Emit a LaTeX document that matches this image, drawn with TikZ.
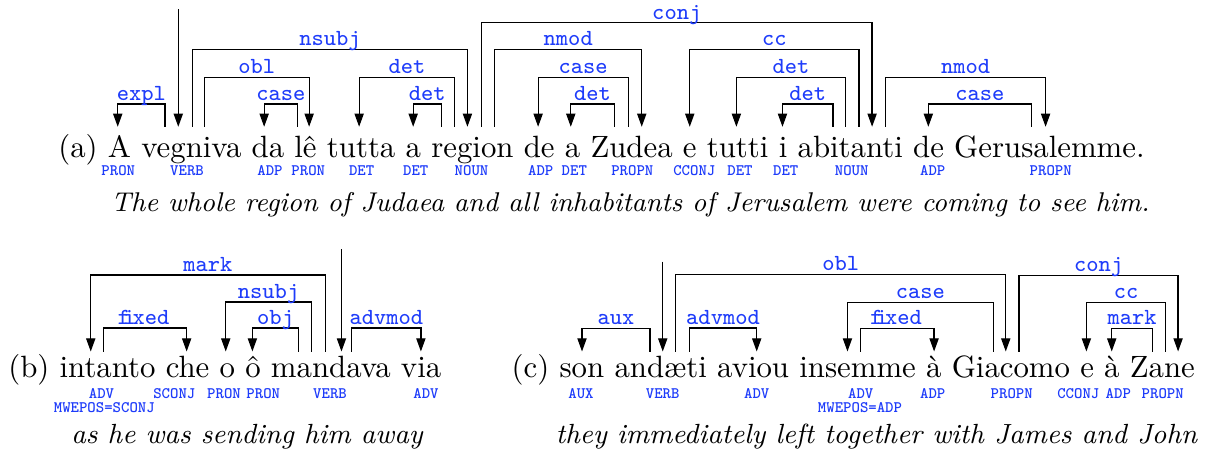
\documentclass[tikz,border=0pt]{standalone}
\usetikzlibrary{arrows.meta,calc}
\definecolor{depblue}{RGB}{30,60,250}
\tikzset{
  wordnode/.style={inner sep=0pt, outer sep=0pt, anchor=base west, font=\fontsize{10}{12}\selectfont},
  postag/.style={inner sep=0pt, outer sep=0pt, anchor=base, text=depblue, font=\fontsize{5.2}{6}\selectfont\ttfamily\bfseries},
  deplabel/.style={inner sep=0pt, outer sep=0pt, anchor=base, yshift=1.2pt, text=depblue, font=\fontsize{7.5}{9}\selectfont\ttfamily},
  deparrow/.style={line width=0.4pt, -{Triangle[length=4.3pt,width=3pt]}},
  rootarrow/.style={line width=0.4pt, -{Triangle[length=4.3pt,width=3pt]}},
  glossnode/.style={inner sep=0pt, outer sep=0pt, anchor=base, font=\fontsize{9}{11}\selectfont\itshape},
}
% next word of a sentence, one interword space after the previous one
\newcommand\nextword[3]{\node[wordnode] (#2) at ([xshift=3.3333pt]#1.base east) {#3};}
% head, dx, dependent, dx, level, relation
\newcommand\depedge[6]{%
  \draw[deparrow] ($(#1.base west)+(#2,\gap)$) coordinate (s) -- (s |- 0,#5)
    -| node[pos=.25,deplabel]{#6} ($(#3.base west)+(#4,\gap)$);}
% the f-i ligature of the mono font, set in one character cell
\newcommand\fixedlabel{\makebox[0.525em]{f\kern-0.28em i}xed}
\begin{document}
\begin{tikzpicture}[x=0.3247pt,y=-0.3247pt]
\useasboundingbox (0,0) rectangle (1205,452);

% ---------------- (a) ----------------
\node[wordnode] (prefA) at (58.3,157.8) {(a)};
\nextword{prefA}{A}{A}
\nextword{A}{vegniva}{vegniva}
\nextword{vegniva}{da}{da}
\nextword{da}{le}{lê}
\nextword{le}{tutta}{tutta}
\nextword{tutta}{aA}{a}
\nextword{aA}{region}{region}
\nextword{region}{deA}{de}
\nextword{deA}{aB}{a}
\nextword{aB}{Zudea}{Zudea}
\nextword{Zudea}{eA}{e}
\nextword{eA}{tutti}{tutti}
\nextword{tutti}{iA}{i}
\nextword{iA}{abitanti}{abitanti}
\nextword{abitanti}{deB}{de}
\nextword{deB}{Gerusalemme}{Gerusalemme}
\node[wordnode] (stopA) at (Gerusalemme.base east) {.};

\node[postag] (ta1) at (118.3,175.7) {PRON};
\node[postag] (ta2) at (187,175.7) {VERB};
\node[postag] (ta3) at (270,175.7) {ADP};
\node[postag] (ta4) at (308.3,175.7) {PRON};
\node[postag] (ta5) at (361.7,175.7) {DET};
\node[postag] (ta6) at (415.7,175.7) {DET};
\node[postag] (ta7) at (471.5,175.7) {NOUN};
\node[postag] (ta8) at (540.7,175.7) {ADP};
\node[postag] (ta9) at (574.3,175.7) {DET};
\node[postag] (ta10) at (632.3,175.7) {PROPN};
\node[postag] (ta11) at (694.3,175.7) {CCONJ};
\node[postag] (ta12) at (740,175.7) {DET};
\node[postag] (ta13) at (785.7,175.7) {DET};
\node[postag] (ta14) at (851.7,175.7) {NOUN};
\node[postag] (ta15) at (932.7,175.7) {ADP};
\node[postag] (ta16) at (1050.7,175.7) {PROPN};

\def\gap{-31}
\coordinate (rootA) at ($(vegniva.base west)+(37,0)$);
\draw[rootarrow] (rootA |- 0,9.3) -- ($(vegniva.base west)+(37,\gap)$);
\depedge{vegniva}{23.7}{A}{9.8}{104}{expl}
\depedge{vegniva}{51.4}{region}{36.1}{49.5}{nsubj}
\depedge{vegniva}{63}{le}{14.7}{77.3}{obl}
\depedge{le}{3}{da}{12.5}{104}{case}
\depedge{region}{23.4}{tutta}{32.2}{77.3}{det}
\depedge{region}{10.1}{aA}{7.5}{104}{det}
\depedge{region}{50.1}{abitanti}{74.5}{22.7}{conj}
\depedge{region}{63.4}{Zudea}{51.2}{49.5}{nmod}
\depedge{Zudea}{37.6}{deA}{14.3}{77.3}{case}
\depedge{Zudea}{23.6}{aB}{5.9}{104}{det}
\depedge{abitanti}{61.5}{eA}{6.8}{49.5}{cc}
\depedge{abitanti}{48.1}{tutti}{29.5}{77.3}{det}
\depedge{abitanti}{35.5}{iA}{3.7}{104}{det}
\depedge{abitanti}{88.1}{Gerusalemme}{91.4}{77.3}{nmod}
\depedge{Gerusalemme}{77.4}{deB}{15.2}{104}{case}

\node[glossnode, font=\fontsize{8.8}{11}\selectfont\itshape] (glossA) at (630.5,211) {The whole region of Judaea and all inhabitants of Jerusalem were coming to see him.};

% ---------------- (b) ----------------
\node[wordnode] (prefB) at (8.3,377.7) {(b)};
\nextword{prefB}{intanto}{intanto}
\nextword{intanto}{che}{che}
\nextword{che}{oB}{o}
\nextword{oB}{ocirc}{ô}
\nextword{ocirc}{mandava}{mandava}
\nextword{mandava}{via}{via}

\node[postag] (tb1) at (101.5,398.3) {ADV};
\node[postag] (tb1m) at (104.3,412.3) {MWEPOS=SCONJ};
\node[postag] (tb2) at (174.3,398.3) {SCONJ};
\node[postag] (tb3) at (224,398.3) {PRON};
\node[postag] (tb4) at (263.3,398.3) {PRON};
\node[postag] (tb5) at (330,398.3) {VERB};
\node[postag] (tb6) at (426,398.3) {ADV};

\def\gap{-26.2}
\coordinate (rootB) at ($(mandava.base west)+(70.5,0)$);
\draw[rootarrow] (rootB |- 0,249.3) -- ($(mandava.base west)+(70.5,\gap)$);
\depedge{mandava}{54.2}{intanto}{31.1}{275}{mark}
\depedge{mandava}{40.5}{oB}{6.1}{302}{nsubj}
\depedge{mandava}{27.5}{ocirc}{7.1}{328}{obj}
\depedge{intanto}{43.7}{che}{20.9}{328}{\fixedlabel}
\depedge{mandava}{80.8}{via}{19.9}{328}{advmod}

\node[glossnode] (glossB) at (247,443.3) {as he was sending him away};

% ---------------- (c) ----------------
\node[wordnode] (prefC) at (511.7,377.7) {(c)};
\nextword{prefC}{son}{son}
\nextword{son}{andaeti}{andæti}
\nextword{andaeti}{aviou}{aviou}
\nextword{aviou}{insemme}{insemme}
\nextword{insemme}{agraveA}{à}
\nextword{agraveA}{Giacomo}{Giacomo}
\nextword{Giacomo}{eC}{e}
\nextword{eC}{agraveB}{à}
\nextword{agraveB}{Zane}{Zane}

\node[postag] (tc1) at (581,398.3) {AUX};
\node[postag] (tc2) at (662.7,398.3) {VERB};
\node[postag] (tc3) at (756.7,398.3) {ADV};
\node[postag] (tc4) at (860.7,398.3) {ADV};
\node[postag] (tc4m) at (860,412.3) {MWEPOS=ADP};
\node[postag] (tc5) at (932.7,398.3) {ADP};
\node[postag] (tc6) at (1011.7,398.3) {PROPN};
\node[postag] (tc7) at (1078.3,398.3) {CCONJ};
\node[postag] (tc8) at (1118.3,398.3) {ADP};
\node[postag] (tc9) at (1162.7,398.3) {PROPN};

\coordinate (rootC) at ($(andaeti.base west)+(48.2,0)$);
\draw[rootarrow] (rootC |- 0,261.7) -- ($(andaeti.base west)+(48.2,\gap)$);
\depedge{andaeti}{35.5}{son}{22.4}{328.5}{aux}
\depedge{andaeti}{61.2}{Giacomo}{54}{274.5}{obl}
\depedge{andaeti}{74.8}{aviou}{39.5}{328}{advmod}
\depedge{Giacomo}{41.6}{insemme}{48.1}{302.5}{case}
\depedge{insemme}{61.5}{agraveA}{8}{328.5}{\fixedlabel}
\depedge{Giacomo}{67.3}{Zane}{48.2}{275.5}{conj}
\depedge{Zane}{35.9}{eC}{6.1}{302.5}{cc}
\depedge{Zane}{22.5}{agraveB}{7.5}{328.5}{mark}

\node[glossnode] (glossC) at (876.5,443.3) {they immediately left together with James and John};
\end{tikzpicture}
\end{document}
